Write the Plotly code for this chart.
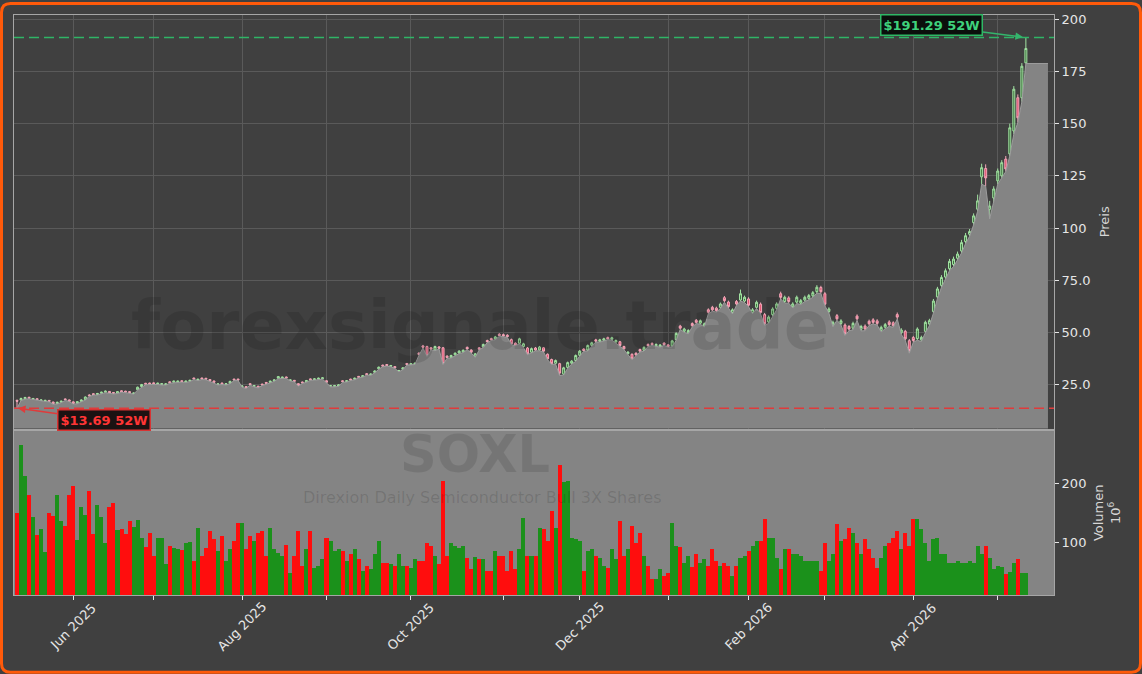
import pandas as pd
from pandas.tseries.offsets import CustomBusinessDay
import plotly.graph_objects as go

# ---------------- data ----------------
holidays = ["2025-05-26", "2025-06-19", "2025-07-04", "2025-09-01", "2025-11-27",
            "2025-12-25", "2026-01-01", "2026-01-19", "2026-02-16", "2026-04-03"]
start_date = "2025-05-12"

opens = [
    17.4, 17.6, 18.2, 18.9, 18.0, 18.2, 17.3, 17.1, 17.4, 16.6,
    15.9, 16.5, 18.1, 17.6, 16.7, 16.0, 16.9, 17.8, 20.0, 20.6,
    20.2, 20.8, 21.3, 21.7, 21.2, 20.9, 22.0, 21.8, 21.6, 20.6,
    22.5, 24.0, 25.6, 25.7, 25.8, 25.2, 25.0, 24.9, 26.3, 26.1,
    26.2, 26.8, 26.2, 26.6, 28.1, 27.1, 28.1, 28.0, 27.4, 26.7,
    25.0, 25.7, 25.0, 25.6, 27.6, 27.6, 23.9, 24.0, 25.4, 24.1,
    24.2, 25.2, 26.0, 26.0, 26.7, 28.0, 28.1, 28.6, 26.9, 27.0,
    25.4, 26.2, 26.3, 27.7, 27.3, 27.6, 27.8, 26.8, 24.1, 24.1,
    24.3, 26.8, 26.4, 27.6, 27.5, 28.9, 28.7, 30.2, 29.6, 30.8,
    32.5, 34.3, 34.6, 33.7, 33.6, 31.3, 32.3, 35.1, 34.6, 34.8,
    40.0, 43.5, 43.2, 42.6, 41.5, 43.0, 42.6, 38.6, 38.0, 39.2,
    40.1, 40.6, 42.8, 41.5, 38.4, 42.6, 43.0, 46.1, 47.0, 46.8,
    49.1, 48.9, 48.6, 46.5, 44.8, 44.8, 43.2, 42.5, 40.5, 42.5,
    41.6, 42.6, 39.5, 37.0, 35.2, 35.0, 30.0, 33.2, 35.2, 36.5,
    39.0, 42.0, 41.5, 43.8, 46.4, 45.7, 46.2, 47.5, 46.7, 45.4,
    45.5, 43.2, 39.8, 39.5, 40.0, 41.8, 41.4, 44.2, 44.7, 43.6,
    43.3, 44.8, 44.0, 43.5, 46.5, 53.0, 50.5, 49.8, 54.2, 55.8,
    54.4, 53.0, 60.8, 62.0, 61.6, 62.0, 66.6, 64.5, 59.5, 64.8,
    65.5, 65.0, 66.0, 59.5, 62.0, 63.5, 58.5, 55.0, 58.5, 61.5,
    68.5, 64.8, 66.5, 62.3, 64.5, 64.0, 65.5, 66.3, 67.5, 69.5,
    71.5, 68.5, 60.0, 53.5, 58.0, 54.3, 53.5, 52.8, 52.0, 57.8,
    51.5, 53.0, 55.3, 56.0, 55.5, 51.0, 52.5, 55.0, 54.6, 58.5,
    49.8, 50.5, 46.0, 47.5, 47.0, 46.4, 50.5, 54.0, 60.0, 67.0,
    72.5, 76.5, 80.5, 82.5, 85.5, 89.0, 93.5, 97.0, 102.6, 109.0,
    124.5, 128.5, 109.0, 114.4, 122.6, 125.0, 133.0, 135.5, 146.5, 162.4,
    162.4, 179.1,
]
highs = [
    17.8, 18.7, 19.1, 19.1, 18.6, 18.4, 17.9, 17.7, 17.6, 16.8,
    16.8, 17.3, 18.3, 17.8, 16.9, 17.0, 17.9, 19.3, 20.3, 20.8,
    21.0, 21.6, 22.1, 21.9, 21.4, 21.9, 22.2, 22.0, 21.8, 21.2,
    24.0, 25.3, 25.8, 25.9, 26.0, 25.9, 25.7, 25.6, 26.5, 26.9,
    26.9, 27.0, 26.9, 27.3, 28.3, 27.8, 28.3, 28.2, 27.6, 26.9,
    25.6, 25.9, 25.7, 26.8, 27.8, 27.8, 24.6, 24.2, 25.6, 24.8,
    24.4, 25.4, 26.2, 26.9, 27.5, 29.1, 28.8, 28.8, 27.5, 27.2,
    25.6, 26.4, 27.2, 27.9, 28.0, 28.3, 28.5, 27.0, 24.8, 24.8,
    25.1, 27.0, 27.1, 27.8, 28.3, 29.1, 29.5, 30.4, 30.3, 31.8,
    33.6, 34.5, 34.8, 34.4, 33.8, 32.0, 33.3, 35.3, 35.3, 35.6,
    40.4, 44.0, 43.6, 43.0, 43.6, 43.4, 43.0, 39.0, 39.3, 40.4,
    41.4, 41.8, 43.2, 41.9, 40.1, 43.0, 44.6, 46.5, 47.4, 48.3,
    49.6, 49.4, 49.1, 47.0, 45.2, 47.4, 45.0, 43.0, 42.7, 43.0,
    43.5, 43.0, 39.9, 37.4, 37.0, 35.4, 33.5, 36.0, 36.7, 39.4,
    41.5, 42.4, 44.2, 45.5, 46.9, 46.9, 47.4, 48.0, 47.9, 46.6,
    45.9, 43.6, 41.0, 39.9, 40.4, 42.2, 43.3, 44.7, 45.2, 44.7,
    44.4, 45.3, 44.4, 46.4, 50.0, 53.6, 52.2, 51.5, 54.8, 56.4,
    56.2, 54.7, 61.5, 62.7, 62.3, 64.3, 67.4, 65.2, 61.5, 65.5,
    70.5, 67.6, 66.8, 61.6, 65.2, 64.3, 59.3, 58.1, 62.0, 64.4,
    69.5, 67.6, 67.3, 64.4, 67.6, 66.0, 67.6, 68.4, 69.8, 72.6,
    72.3, 69.3, 62.0, 55.6, 58.8, 56.3, 54.3, 53.5, 55.1, 58.6,
    53.6, 53.8, 56.1, 56.8, 56.3, 53.2, 54.5, 55.8, 55.3, 59.5,
    52.0, 51.2, 46.8, 48.3, 52.4, 48.4, 55.6, 56.5, 66.0, 71.8,
    77.4, 80.6, 85.2, 86.3, 88.7, 94.3, 97.6, 99.5, 107.0, 116.0,
    130.8, 130.5, 113.0, 120.0, 128.5, 132.5, 134.5, 150.0, 168.0, 164.0,
    179.0, 191.29,
]
lows = [
    13.69, 17.3, 18.0, 18.2, 17.8, 17.5, 17.1, 16.9, 16.7, 15.5,
    15.7, 16.3, 17.4, 16.8, 15.6, 15.8, 16.7, 17.6, 19.3, 19.9,
    20.0, 20.6, 21.1, 20.8, 20.5, 20.7, 21.3, 21.1, 20.9, 20.4,
    22.3, 23.8, 24.9, 25.0, 25.1, 25.0, 24.8, 24.7, 25.6, 25.9,
    26.0, 26.1, 26.0, 26.4, 27.4, 26.9, 27.4, 27.3, 26.5, 25.8,
    24.8, 25.0, 24.8, 25.4, 26.9, 26.9, 23.7, 23.1, 24.7, 23.9,
    23.4, 24.5, 25.3, 25.8, 26.5, 27.8, 27.9, 27.9, 26.7, 26.3,
    24.2, 25.5, 26.1, 27.0, 27.1, 27.4, 27.6, 25.8, 23.9, 23.9,
    24.1, 26.1, 26.2, 26.9, 27.3, 28.2, 28.5, 29.5, 29.4, 30.6,
    32.3, 33.5, 33.8, 33.5, 32.7, 31.1, 32.1, 34.3, 34.4, 34.6,
    39.0, 42.5, 38.5, 41.6, 41.2, 42.0, 34.6, 37.6, 37.7, 38.9,
    39.8, 40.3, 41.7, 40.1, 38.0, 41.6, 42.7, 45.1, 46.0, 46.5,
    48.1, 47.9, 47.6, 44.1, 43.6, 44.5, 42.8, 39.3, 40.1, 41.1,
    41.2, 40.6, 36.9, 34.6, 34.8, 29.3, 29.5, 32.8, 34.8, 36.1,
    38.6, 40.9, 41.1, 43.4, 45.4, 45.3, 45.8, 46.5, 46.3, 45.0,
    43.3, 41.7, 39.4, 36.9, 38.8, 40.6, 41.0, 43.2, 43.7, 43.2,
    42.9, 43.8, 42.8, 43.1, 46.1, 51.4, 50.0, 49.3, 52.6, 54.2,
    53.9, 52.5, 58.9, 60.1, 59.7, 61.4, 64.4, 61.6, 58.8, 62.9,
    65.0, 64.3, 62.3, 58.9, 61.4, 58.8, 53.4, 54.3, 57.8, 60.8,
    66.0, 64.0, 64.0, 61.6, 63.8, 63.3, 64.8, 65.6, 66.8, 68.8,
    68.7, 62.7, 59.2, 52.7, 55.8, 53.5, 48.5, 50.8, 51.2, 55.7,
    50.7, 50.8, 53.3, 54.0, 53.5, 50.2, 51.7, 52.9, 52.4, 56.4,
    49.0, 46.1, 40.0, 45.3, 46.2, 45.6, 49.8, 53.2, 59.2, 66.2,
    71.5, 75.5, 79.5, 81.5, 84.5, 88.0, 92.5, 96.0, 101.5, 108.0,
    121.0, 120.0, 104.4, 112.0, 121.0, 124.0, 127.0, 134.5, 145.0, 150.5,
    160.5, 178.8,
]
closes = [
    17.0, 18.3, 18.8, 18.5, 18.3, 17.8, 17.6, 17.4, 17.0, 15.8,
    16.5, 17.0, 17.8, 17.0, 15.9, 16.8, 17.6, 19.0, 19.6, 20.2,
    20.7, 21.3, 21.8, 21.0, 20.8, 21.6, 21.6, 21.4, 21.2, 20.9,
    23.7, 25.0, 25.2, 25.3, 25.4, 25.6, 25.4, 25.3, 25.9, 26.6,
    26.6, 26.4, 26.6, 27.0, 27.7, 27.5, 27.7, 27.6, 26.8, 26.1,
    25.3, 25.3, 25.4, 26.5, 27.2, 27.2, 24.3, 23.4, 25.0, 24.5,
    23.7, 24.8, 25.6, 26.6, 27.2, 28.8, 28.5, 28.2, 27.2, 26.6,
    24.5, 25.8, 26.9, 27.3, 27.7, 28.0, 28.2, 26.1, 24.5, 24.5,
    24.8, 26.4, 26.8, 27.2, 28.0, 28.5, 29.2, 29.8, 30.0, 31.5,
    33.3, 33.8, 34.1, 34.1, 33.0, 31.7, 33.0, 34.6, 35.0, 35.2,
    39.4, 42.9, 38.9, 42.0, 43.2, 42.4, 35.0, 38.0, 38.9, 40.0,
    41.0, 41.4, 42.1, 40.5, 39.7, 42.0, 44.2, 45.5, 46.4, 47.8,
    48.5, 48.3, 48.0, 44.5, 44.0, 46.9, 44.5, 39.7, 42.2, 41.5,
    43.0, 41.0, 37.3, 35.0, 36.5, 30.5, 33.0, 35.5, 36.2, 38.9,
    41.0, 41.3, 43.7, 45.0, 45.8, 46.4, 46.9, 46.9, 47.4, 46.1,
    43.7, 42.1, 40.5, 37.3, 39.2, 41.0, 42.8, 43.6, 44.1, 44.2,
    43.9, 44.2, 43.2, 45.9, 49.5, 52.0, 51.6, 50.9, 53.2, 54.8,
    55.6, 54.1, 59.6, 60.8, 60.4, 63.6, 65.2, 62.3, 60.8, 63.6,
    68.5, 66.8, 63.0, 60.8, 64.4, 59.5, 54.1, 57.3, 61.2, 63.6,
    66.8, 66.8, 64.8, 63.6, 66.8, 65.2, 66.8, 67.6, 69.0, 71.6,
    69.5, 63.5, 61.2, 54.8, 56.5, 55.5, 49.3, 51.6, 54.3, 56.5,
    52.8, 51.6, 54.1, 54.8, 54.3, 52.4, 53.7, 53.7, 53.2, 57.3,
    51.1, 46.9, 41.3, 46.1, 51.6, 47.6, 54.8, 55.6, 65.0, 70.8,
    76.3, 79.5, 84.0, 85.1, 87.5, 93.0, 96.3, 98.3, 105.8, 113.0,
    128.9, 124.0, 110.5, 118.7, 127.3, 131.3, 128.3, 148.0, 166.5, 152.8,
    177.5, 186.0,
]
volumes = [  # millions of shares
    151, 264, 213, 180, 143, 114, 124, 85, 151, 146,
    180, 137, 128, 181, 195, 105, 160, 147, 188, 115,
    164, 144, 100, 161, 168, 122, 124, 115, 137, 126,
    139, 109, 93, 116, 78, 109, 109, 64, 94, 92,
    90, 88, 100, 102, 69, 125, 78, 92, 120, 107,
    86, 112, 69, 90, 103, 134, 134, 90, 112, 103,
    117, 120, 78, 125, 90, 83, 78, 97, 49, 78,
    120, 61, 90, 120, 58, 61, 73, 108, 103, 86,
    90, 86, 69, 81, 90, 73, 53, 61, 56, 81,
    103, 66, 66, 64, 61, 81, 61, 61, 58, 73,
    69, 69, 100, 95, 78, 64, 205, 78, 100, 95,
    92, 95, 75, 56, 76, 73, 73, 53, 53, 86,
    78, 78, 53, 86, 56, 90, 142, 78, 78, 78,
    125, 124, 103, 154, 125, 231, 202, 205, 108, 107,
    103, 53, 86, 90, 78, 75, 61, 58, 90, 73,
    137, 78, 90, 129, 100, 117, 78, 61, 39, 39,
    56, 44, 49, 134, 95, 93, 66, 78, 59, 81,
    66, 73, 61, 90, 69, 61, 66, 61, 44, 61,
    75, 78, 86, 95, 103, 103, 140, 108, 108, 75,
    56, 90, 90, 81, 81, 78, 69, 69, 69, 69,
    53, 100, 69, 81, 132, 103, 107, 125, 117, 100,
    81, 107, 90, 75, 58, 75, 95, 100, 108, 120,
    90, 117, 95, 140, 140, 124, 100, 69, 107, 108,
    81, 81, 66, 66, 69, 66, 66, 69, 66, 95,
    81, 95, 75, 56, 61, 59, 48, 51, 67, 73,
    50, 50,
]
price_ticks = [25, 50, 75, 100, 125, 150, 175, 200]
price_tick_text = ["25.0", "50.0", "75.0", "100", "125", "150", "175", "200"]
volume_ticks = [100, 200]
ticker = "SOXL"
fund_name = "Direxion Daily Semiconductor Bull 3X Shares"
watermark = "forexsignale.trade"

# ---------------- layout constants ----------------
W, H = 1142, 674
ML, MR, MT, MB = 14, 88, 13, 79
PW, PH = W - ML - MR, H - MT - MB
X_RANGE = [-0.75, 258.0]
TAIL_END = 256.5
PRICE_RANGE = [3.9, 202.05]
VOL_RANGE = [11.6, 288.4]

BG = "#404040"
AREA = "#848484"
GRID = "#5a5a5a"
FRAME = "#a6a6a6"
TXT = "#e6e6e6"
UP_VOL = "#1b911b"
DN_VOL = "#ff0d0d"
FONT = "DejaVu Sans"


def px2x(px):
    return (px - ML) / PW


def py2y(py):
    return (H - MB - py) / PH


n = len(closes)
idx = list(range(n))
bday = CustomBusinessDay(holidays=holidays)
dates = pd.date_range(start_date, periods=n, freq=bday)

month_ticks = [i for i in range(1, n) if dates[i].month != dates[i - 1].month]
month_labels = [dates[i].strftime("%b %Y") if dates[i].month % 2 == 0 else "" for i in month_ticks]

vol_colors = [UP_VOL if c >= o else DN_VOL for o, c in zip(opens, closes)]

fig = go.Figure()

# grey area under the lows (extends as a flat block after the last bar)
fig.add_trace(go.Scatter(
    x=[X_RANGE[0]] + idx + [TAIL_END], y=[lows[0]] + lows + [lows[-1]],
    mode="lines", fill="tozeroy", fillcolor=AREA,
    line=dict(color="#9d9d9d", width=1), hoverinfo="skip", showlegend=False,
    xaxis="x", yaxis="y"))

fig.add_trace(go.Candlestick(
    x=idx, open=opens, high=highs, low=lows, close=closes,
    increasing=dict(line=dict(color="#a2e3a2", width=1), fillcolor="rgba(60,150,60,0.55)"),
    decreasing=dict(line=dict(color="#f4a6b8", width=1), fillcolor="#e2506f"),
    whiskerwidth=0, showlegend=False, xaxis="x", yaxis="y", name=ticker))

fig.add_trace(go.Bar(
    x=idx, y=volumes, width=1.0, marker=dict(color=vol_colors, line=dict(width=0)),
    showlegend=False, xaxis="x2", yaxis="y2", name="Volumen"))

hi_val = max(highs)
lo_val = min(lows)
hi_i = highs.index(hi_val)
lo_i = lows.index(lo_val)

shapes = [
    # grey background of the volume panel
    dict(type="rect", xref="x2 domain", yref="y2 domain", x0=0, x1=1, y0=0, y1=1,
         fillcolor=AREA, line=dict(width=0), layer="below"),
    # 52W high / low lines
    dict(type="line", xref="x domain", yref="y", x0=0, x1=1, y0=hi_val, y1=hi_val,
         line=dict(color="#2fb566", width=1.5, dash="10px,5px")),
    dict(type="line", xref="x domain", yref="y", x0=0, x1=1, y0=lo_val, y1=lo_val,
         line=dict(color="#e03b3b", width=1.5, dash="10px,5px")),
]

# orange rounded frame around the whole figure
r = 9
b = 1.5
x0p, x1p, y0p, y1p = b, W - b, b, H - b
def P(px, py):
    return f"{px2x(px):.5f},{py2y(py):.5f}"
frame_path = (
    f"M {P(x0p + r, y0p)} L {P(x1p - r, y0p)} Q {P(x1p, y0p)} {P(x1p, y0p + r)} "
    f"L {P(x1p, y1p - r)} Q {P(x1p, y1p)} {P(x1p - r, y1p)} "
    f"L {P(x0p + r, y1p)} Q {P(x0p, y1p)} {P(x0p, y1p - r)} "
    f"L {P(x0p, y0p + r)} Q {P(x0p, y0p)} {P(x0p + r, y0p)} Z"
)
shapes.append(dict(type="path", xref="paper", yref="paper", path=frame_path,
                   line=dict(color="#ff5a0a", width=3), layer="above"))

annotations = [
    dict(text=f"<b>{watermark}</b>", xref="paper", yref="paper", x=px2x(480), y=py2y(325),
         xanchor="center", yanchor="middle",
         showarrow=False, font=dict(family=FONT, size=67, color="rgba(0,0,0,0.12)")),
    dict(text=f"<b>{ticker}</b>", xref="paper", yref="paper", x=px2x(475), y=py2y(454),
         xanchor="center", yanchor="middle",
         showarrow=False, font=dict(family=FONT, size=51, color="rgba(0,0,0,0.11)")),
    dict(text=fund_name, xref="paper", yref="paper", x=px2x(482), y=py2y(497),
         xanchor="center", yanchor="middle",
         showarrow=False, font=dict(family=FONT, size=16, color="rgba(0,0,0,0.13)")),
    dict(text=f"<b>${hi_val:.2f} 52W</b>", xref="x", yref="y", x=hi_i, y=hi_val,
         ax=-94, ay=-12, showarrow=True, arrowhead=2, arrowsize=1, arrowwidth=1.5,
         arrowcolor="#34b56c", standoff=3,
         font=dict(family=FONT, size=13, color="#3fd27c"),
         bgcolor="#0b0f0c", bordercolor="#2fb865", borderwidth=1.5, borderpad=2),
    dict(text=f"<b>${lo_val:.2f} 52W</b>", xref="x", yref="y", x=lo_i, y=lo_val,
         ax=87, ay=12, showarrow=True, arrowhead=2, arrowsize=1, arrowwidth=1.5,
         arrowcolor="#e03b3b", standoff=1,
         font=dict(family=FONT, size=13, color="#ff3535"),
         bgcolor="#1b1212", bordercolor="#d83333", borderwidth=1.5, borderpad=2),
]
# rotated month labels centred on their ticks
for tv, tl in zip(month_ticks, month_labels):
    if tl:
        annotations.append(dict(text=tl, xref="x2", yref="paper", x=tv, y=py2y(627),
                                textangle=-45, showarrow=False, xanchor="center",
                                yanchor="middle", font=dict(family=FONT, size=13, color=TXT)))

axis_common = dict(showline=True, linecolor=FRAME, linewidth=1, mirror=True, zeroline=False)

fig.update_layout(
    width=W, height=H,
    margin=dict(l=ML, r=MR, t=MT, b=MB, pad=0),
    paper_bgcolor=BG, plot_bgcolor=BG,
    font=dict(family=FONT, size=13, color=TXT),
    showlegend=False, bargap=0,
    xaxis=dict(domain=[0, 1], anchor="y", range=X_RANGE, tickvals=month_ticks,
               showticklabels=False, ticks="", showgrid=True, gridcolor=GRID, gridwidth=1,
               rangeslider=dict(visible=False), **axis_common),
    xaxis2=dict(domain=[0, 1], anchor="y2", range=X_RANGE, tickvals=month_ticks,
                showticklabels=False, ticks="outside", ticklen=4, tickcolor=TXT,
                showgrid=False, **axis_common),
    yaxis=dict(domain=[py2y(428), 1], anchor="x", side="right", range=PRICE_RANGE,
               tickvals=price_ticks, ticktext=price_tick_text, ticks="outside", ticklen=4,
               tickcolor=TXT, showgrid=True, gridcolor=GRID, gridwidth=1,
               tickfont=dict(size=13, color=TXT),
               title=dict(text="Preis", standoff=10, font=dict(size=13, color="#d6d6d6")),
               **axis_common),
    yaxis2=dict(domain=[0, py2y(430)], anchor="x2", side="right", range=VOL_RANGE,
                tickvals=volume_ticks, ticks="outside", ticklen=4, tickcolor=TXT,
                showgrid=False, tickfont=dict(size=13, color=TXT),
                title=dict(text="Volumen<br>10<sup>6</sup>", standoff=8,
                           font=dict(size=13, color="#d6d6d6")),
                **axis_common),
    shapes=shapes,
    annotations=annotations,
)

fig.write_html("out.html")
